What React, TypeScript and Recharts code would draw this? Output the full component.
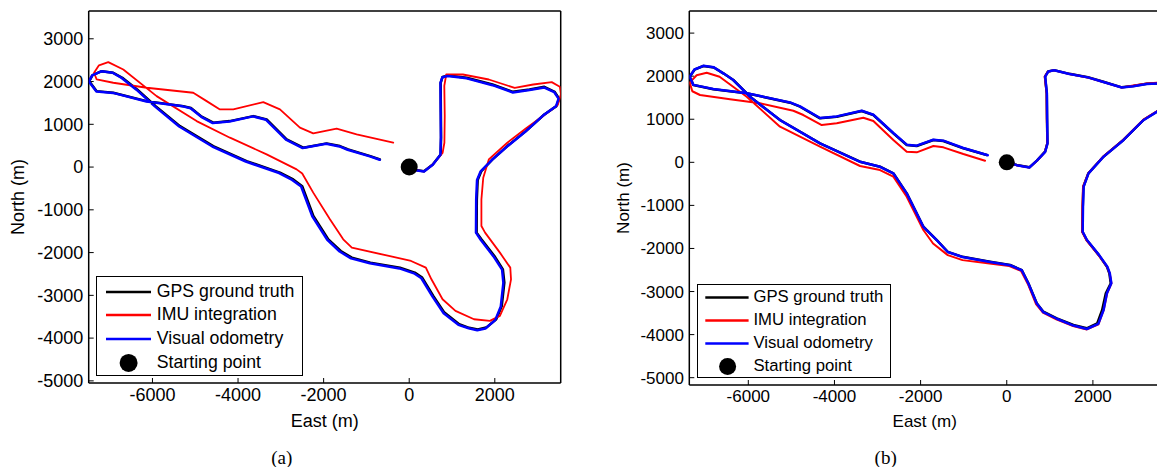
import React from 'react';
import { ScatterChart, Scatter, XAxis, YAxis, Legend } from 'recharts';

type Pt = [number, number];

// tick values shared by both panels
const xTicks = [-6000, -4000, -2000, 0, 2000];
const yTicks = [-5000, -4000, -3000, -2000, -1000, 0, 1000, 2000, 3000];

const seriesNames = ['GPS ground truth', 'IMU integration', 'Visual odometry', 'Starting point'];
const seriesColors = ['#000000', '#ff0000', '#0000ff', '#000000'];

const startPoint: Pt[] = [[0, 0]];

// panel (a): East / North in metres
const gpsA: Pt[] = [
  [0, 0], [150, -70], [346, -100], [550, 60], [735, 296], [745, 700], [740, 1300], [735, 1970], [780, 2110], [908, 2140],
  [1341, 2087], [1946, 1931], [2422, 1760], [2811, 1815], [3157, 1877], [3400, 1760], [3503, 1600], [3440, 1425], [3157, 1230],
  [2725, 841], [2292, 491], [1946, 179], [1687, -93], [1600, -300], [1580, -755], [1575, -1534], [1687, -1690], [1990, -2079],
  [2189, -2391], [2223, -2702], [2163, -3248], [2033, -3559], [1800, -3754], [1600, -3800], [1400, -3760], [1168, -3676],
  [822, -3403], [562, -3014], [303, -2586], [130, -2469], [-216, -2352], [-908, -2235], [-1341, -2118], [-1600, -1963],
  [-1890, -1690], [-2240, -1145], [-2500, -450], [-2710, -290], [-3020, -130], [-3800, 140], [-4580, 490], [-5357, 958],
  [-5926, 1425], [-6358, 1815], [-6704, 2087], [-6916, 2205], [-7187, 2243], [-7400, 2150], [-7477, 2009], [-7304, 1776],
  [-6916, 1738], [-6136, 1542], [-5280, 1425], [-5100, 1380], [-4850, 1180], [-4579, 1037], [-4196, 1075], [-3645, 1192],
  [-3332, 1114], [-2864, 647], [-2477, 453], [-1930, 554], [-1619, 491], [-1427, 413], [-908, 257], [-685, 180],
];

const imuA: Pt[] = [
  [0, 0], [150, -70], [346, -100], [550, 60], [780, 330], [822, 569], [830, 1200], [820, 1900], [865, 2165], [1254, 2165],
  [1860, 2048], [2465, 1853], [2898, 1931], [3330, 1986], [3520, 1880], [3547, 1700], [3470, 1450], [3244, 1280], [2725, 900],
  [2292, 569], [1860, 179], [1730, -249], [1687, -755], [1687, -1379], [1773, -1534], [2119, -2001], [2362, -2352],
  [2379, -2625], [2292, -3092], [2119, -3481], [1885, -3598], [1514, -3559], [1081, -3364], [779, -3092], [519, -2625],
  [389, -2352], [43, -2196], [-476, -2079], [-1341, -1885], [-1542, -1689], [-1853, -1222], [-2243, -598], [-2500, -150],
  [-2631, -54], [-3332, 297], [-4189, 687], [-4968, 1075], [-5903, 1659], [-6682, 2283], [-7033, 2453], [-7250, 2380],
  [-7365, 2205], [-7304, 2049], [-6916, 1972], [-6136, 1855], [-5047, 1738], [-4734, 1542], [-4423, 1348], [-4112, 1348],
  [-3411, 1519], [-3021, 1348], [-2554, 921], [-2243, 787], [-1696, 897], [-1229, 764], [-374, 570],
];

const voA: Pt[] = [
  [0, 0], [150, -75], [346, -105], [550, 55], [730, 290], [740, 700], [735, 1300], [730, 1970], [775, 2100], [900, 2130],
  [1341, 2075], [1946, 1915], [2422, 1745], [2811, 1800], [3157, 1860], [3390, 1750], [3490, 1600], [3430, 1420], [3140, 1215],
  [2710, 825], [2280, 475], [1930, 165], [1670, -100], [1585, -300], [1565, -755], [1560, -1534], [1670, -1700], [1970, -2090],
  [2170, -2400], [2200, -2710], [2140, -3260], [2010, -3580], [1780, -3775], [1590, -3815], [1390, -3770], [1150, -3690],
  [805, -3420], [545, -3030], [285, -2600], [110, -2485], [-230, -2370], [-920, -2250], [-1360, -2135], [-1625, -1975],
  [-1915, -1700], [-2265, -1150], [-2525, -455], [-2735, -300], [-3040, -140], [-3820, 130], [-4600, 480], [-5375, 950],
  [-5945, 1420], [-6375, 1810], [-6720, 2085], [-6930, 2205], [-7195, 2240], [-7410, 2145], [-7485, 2000], [-7310, 1770],
  [-6920, 1735], [-6140, 1535], [-5290, 1420], [-5110, 1375], [-4860, 1175], [-4590, 1030], [-4200, 1068], [-3650, 1185],
  [-3345, 1105], [-2880, 640], [-2490, 445], [-1940, 545], [-1630, 483], [-1440, 405], [-920, 250], [-690, 170],
];

// panel (b)
const gpsB: Pt[] = [
  [0, 0], [232, -63], [525, -116], [700, 40], [889, 246], [943, 441], [935, 1000], [929, 1602], [889, 1987], [960, 2110],
  [1100, 2140], [1454, 2054], [1882, 1977], [2243, 1871], [2670, 1741], [2940, 1772], [3250, 1822], [3483, 1834], [3650, 1780],
  [3700, 1500], [3620, 1260], [3483, 1175], [3172, 982], [2707, 518], [2243, 130], [1895, -255], [1779, -566], [1765, -1031],
  [1756, -1611], [1857, -1804], [2139, -2155], [2327, -2426], [2382, -2577], [2415, -2809], [2300, -3042], [2215, -3429],
  [2100, -3738], [1857, -3854], [1547, -3777], [1161, -3622], [850, -3469], [696, -3274], [502, -2809], [348, -2501],
  [77, -2384], [-388, -2308], [-1027, -2194], [-1369, -2078], [-1625, -1804], [-1936, -1495], [-2322, -720], [-2633, -255],
  [-2942, -102], [-3406, 14], [-4335, 441], [-5264, 982], [-5960, 1523], [-6348, 1911], [-6580, 2066], [-6800, 2200],
  [-7044, 2236], [-7250, 2150], [-7361, 1987], [-7276, 1795], [-6812, 1695], [-6037, 1602], [-5031, 1384], [-4799, 1291],
  [-4335, 1022], [-3947, 1059], [-3367, 1191], [-3097, 1098], [-2633, 673], [-2322, 402], [-2090, 378], [-1704, 518],
  [-1472, 495], [-1008, 325], [-464, 170],
];

const imuB: Pt[] = [
  [0, 0], [232, -70], [525, -120], [700, 35], [885, 240], [940, 441], [930, 1000], [925, 1602], [880, 1987], [955, 2105],
  [1100, 2135], [1454, 2050], [1882, 1970], [2243, 1865], [2670, 1735], [2940, 1785], [3250, 1830], [3483, 1845], [3650, 1790],
  [3700, 1500], [3620, 1270], [3483, 1185], [3172, 990], [2707, 525], [2243, 135], [1895, -250], [1770, -566], [1755, -1031],
  [1750, -1611], [1850, -1810], [2135, -2160], [2330, -2430], [2390, -2577], [2430, -2809], [2330, -3042], [2250, -3429],
  [2130, -3760], [1857, -3880], [1540, -3800], [1150, -3645], [840, -3490], [680, -3290], [490, -2825], [330, -2520],
  [60, -2410], [-400, -2350], [-1027, -2271], [-1369, -2155], [-1711, -1884], [-1936, -1572], [-2322, -798], [-2633, -334],
  [-2942, -179], [-3406, -86], [-4335, 362], [-5264, 827], [-6037, 1523], [-6667, 1987], [-6966, 2080], [-7200, 2020],
  [-7361, 1850], [-7300, 1650], [-7121, 1563], [-6425, 1463], [-5728, 1370], [-4954, 1198], [-4722, 1098], [-4295, 866],
  [-3947, 905], [-3329, 1036], [-3097, 959], [-2633, 518], [-2322, 246], [-2090, 232], [-1704, 378], [-1472, 348],
  [-1008, 193], [-504, 37],
];

const voB: Pt[] = [
  [0, 0], [232, -66], [525, -120], [700, 38], [892, 244], [946, 441], [938, 1000], [932, 1602], [892, 1987], [963, 2108],
  [1100, 2136], [1454, 2050], [1882, 1972], [2243, 1866], [2670, 1736], [2940, 1768], [3250, 1818], [3483, 1830], [3650, 1776],
  [3700, 1500], [3620, 1256], [3483, 1171], [3172, 978], [2707, 514], [2243, 126], [1898, -258], [1785, -566], [1770, -1031],
  [1762, -1611], [1862, -1804], [2145, -2155], [2335, -2426], [2392, -2577], [2428, -2809], [2325, -3042], [2248, -3429],
  [2125, -3750], [1860, -3870], [1547, -3790], [1161, -3632], [850, -3478], [696, -3280], [502, -2815], [348, -2506],
  [77, -2390], [-388, -2312], [-1027, -2198], [-1369, -2082], [-1625, -1808], [-1936, -1498], [-2322, -722], [-2633, -257],
  [-2942, -104], [-3406, 12], [-4335, 440], [-5264, 980], [-5960, 1522], [-6348, 1910], [-6580, 2066], [-6800, 2205],
  [-7044, 2240], [-7250, 2155], [-7361, 1990], [-7276, 1798], [-6812, 1700], [-6037, 1606], [-5031, 1390], [-4799, 1297],
  [-4335, 1028], [-3947, 1066], [-3367, 1198], [-3097, 1105], [-2633, 680], [-2322, 410], [-2090, 386], [-1704, 525],
  [-1472, 502], [-1008, 332], [-440, 165],
];

const SANS = "'Liberation Sans', Arial, sans-serif";
const SERIF = "'Liberation Serif', 'Times New Roman', serif";

const toXY = (pts: Pt[]) => pts.map(([x, y]) => ({ x, y }));

const NoMarker = () => <g />;

interface PanelCfg {
  left: number;
  width: number;
  yAxisWidth: number;
  marginRight: number;
  xAxisHeight: number;
  xDomain: [number, number];
  yDomain: [number, number];
  fontSize: number;
  legendFont: number;
  yLabelOffset: number;
  xLabelOffset: number;
  dotR: number;
  legend: { left: number; top: number; width: number; height: number; padTop: number; rowH: number; lineLeft: number; lineW: number; textLeft: number; dotX: number };
  widths: number[];
  caption: string;
  captionX: number;
}

const panelA: PanelCfg = {
  left: 0, width: 580, yAxisWidth: 88.7, marginRight: 19.3, xAxisHeight: 84,
  xDomain: [-7490, 3540], yDomain: [-5050, 3650], fontSize: 18, legendFont: 17.7,
  yLabelOffset: 18, xLabelOffset: 40, dotR: 8.5,
  legend: { left: 95.7, top: 275.5, width: 207, height: 100.5, padTop: 3, rowH: 23.9, lineLeft: 11, lineW: 45, textLeft: 61.6, dotX: 33.6 },
  widths: [2.5, 1.8, 2.5], caption: '(a)', captionX: 281.7,
};

const panelB: PanelCfg = {
  left: 580, width: 600, yAxisWidth: 109.3, marginRight: 19.9, xAxisHeight: 82,
  xDomain: [-7370, 3560], yDomain: [-5170, 3513], fontSize: 17, legendFont: 16.7,
  yLabelOffset: 43.3, xLabelOffset: 40.5, dotR: 8,
  legend: { left: 116.7, top: 283.7, width: 194, height: 94.6, padTop: 1.6, rowH: 22.8, lineLeft: 9.3, lineW: 43.3, textLeft: 57.3, dotX: 31.6 },
  widths: [2.5, 2, 2.5], caption: '(b)', captionX: 885.7,
};

const LegendBox = ({ cfg }: { cfg: PanelCfg }) => {
  const l = cfg.legend;
  return (
    <div style={{ boxSizing: 'border-box', width: l.width, height: l.height, border: '1.5px solid #000', background: '#fff', paddingTop: l.padTop, fontFamily: SANS, fontSize: cfg.legendFont, color: '#000' }}>
      {seriesNames.map((name, i) => (
        <div key={name} style={{ position: 'relative', height: l.rowH }}>
          <svg width={l.textLeft} height={l.rowH} style={{ position: 'absolute', left: -1.5, top: 0 }}>
            {name === 'Starting point' ? (
              <circle cx={l.dotX} cy={l.rowH / 2} r={cfg.dotR + 0.5} fill={seriesColors[i]} />
            ) : (
              <line x1={l.lineLeft} x2={l.lineLeft + l.lineW} y1={l.rowH / 2} y2={l.rowH / 2} stroke={seriesColors[i]} strokeWidth={2.5} />
            )}
          </svg>
          <span style={{ position: 'absolute', left: l.textLeft - 1.5, top: 0, lineHeight: `${l.rowH}px`, whiteSpace: 'nowrap' }}>{name}</span>
        </div>
      ))}
    </div>
  );
};

const Panel = ({ cfg, gps, imu, vo }: { cfg: PanelCfg; gps: Pt[]; imu: Pt[]; vo: Pt[] }) => {
  const tickStyle = { fill: '#000', fontSize: cfg.fontSize, fontFamily: SANS };
  const axisLine = { stroke: '#000', strokeWidth: 1.5 };
  const tickLine = { stroke: '#000', strokeWidth: 1 };
  const series = [gps, imu, vo];
  return (
    <div style={{ position: 'absolute', left: cfg.left, top: 0 }}>
      {/* top/right axes are 1px thick so Recharts still draws them (box frame) */}
      <ScatterChart width={cfg.width} height={467} margin={{ top: 10, right: cfg.marginRight - 1, bottom: 0, left: 0 }}>
        <XAxis
          dataKey="x" type="number" domain={cfg.xDomain} allowDataOverflow ticks={xTicks} interval={0}
          height={cfg.xAxisHeight} tickSize={-5} tickMargin={10} tick={tickStyle} axisLine={axisLine} tickLine={tickLine}
          label={{ value: 'East (m)', position: 'insideBottom', offset: cfg.xLabelOffset, fill: '#000', fontSize: cfg.fontSize, fontFamily: SANS }}
        />
        <YAxis
          dataKey="y" type="number" domain={cfg.yDomain} allowDataOverflow ticks={yTicks} interval={0}
          width={cfg.yAxisWidth} tickSize={-5} tickMargin={10.4} tick={tickStyle} axisLine={axisLine} tickLine={tickLine}
          label={{ value: 'North (m)', angle: -90, position: 'insideLeft', offset: cfg.yLabelOffset, fill: '#000', fontSize: cfg.fontSize, fontFamily: SANS, style: { textAnchor: 'middle' } }}
        />
        <XAxis
          xAxisId="top" dataKey="x" orientation="top" type="number" domain={cfg.xDomain} allowDataOverflow ticks={xTicks} interval={0}
          height={1} tickSize={-5} tick={false} axisLine={axisLine} tickLine={tickLine}
        />
        <YAxis
          yAxisId="right" dataKey="y" orientation="right" type="number" domain={cfg.yDomain} allowDataOverflow ticks={yTicks} interval={0}
          width={1} tickSize={-5} tick={false} axisLine={axisLine} tickLine={tickLine}
        />
        <Scatter
          xAxisId="top" yAxisId="right" data={toXY(startPoint)} fill="none" shape={NoMarker}
          legendType="none" isAnimationActive={false}
        />
        {series.map((pts, i) => (
          <Scatter
            key={seriesNames[i]}
            name={seriesNames[i]}
            data={toXY(pts)}
            fill={seriesColors[i]}
            line={{ stroke: seriesColors[i], strokeWidth: cfg.widths[i], strokeLinejoin: 'round', strokeLinecap: 'round' }}
            lineJointType="linear"
            shape={NoMarker}
            isAnimationActive={false}
          />
        ))}
        <Scatter
          name={seriesNames[3]}
          data={toXY(startPoint)}
          fill="#000"
          shape={(p: any) => <circle cx={p.cx} cy={p.cy} r={cfg.dotR} fill="#000" />}
          isAnimationActive={false}
        />
        <Legend
          layout="vertical" align="center" verticalAlign="middle"
          wrapperStyle={{ left: cfg.legend.left, top: cfg.legend.top, width: 'auto' }}
          content={() => <LegendBox cfg={cfg} />}
        />
      </ScatterChart>
    </div>
  );
};

export default function App() {
  return (
    <div style={{ position: 'absolute', left: 0, top: 0, width: 1157, height: 467, overflow: 'hidden', background: '#fff' }}>
      <Panel cfg={panelA} gps={gpsA} imu={imuA} vo={voA} />
      <Panel cfg={panelB} gps={gpsB} imu={imuB} vo={voB} />
      {[panelA, panelB].map((p) => (
        <div key={p.caption} style={{ position: 'absolute', left: p.captionX - 20, width: 40, top: 447, textAlign: 'center', fontFamily: SERIF, fontSize: 19, lineHeight: '22px', color: '#000' }}>
          {p.caption}
        </div>
      ))}
    </div>
  );
}
